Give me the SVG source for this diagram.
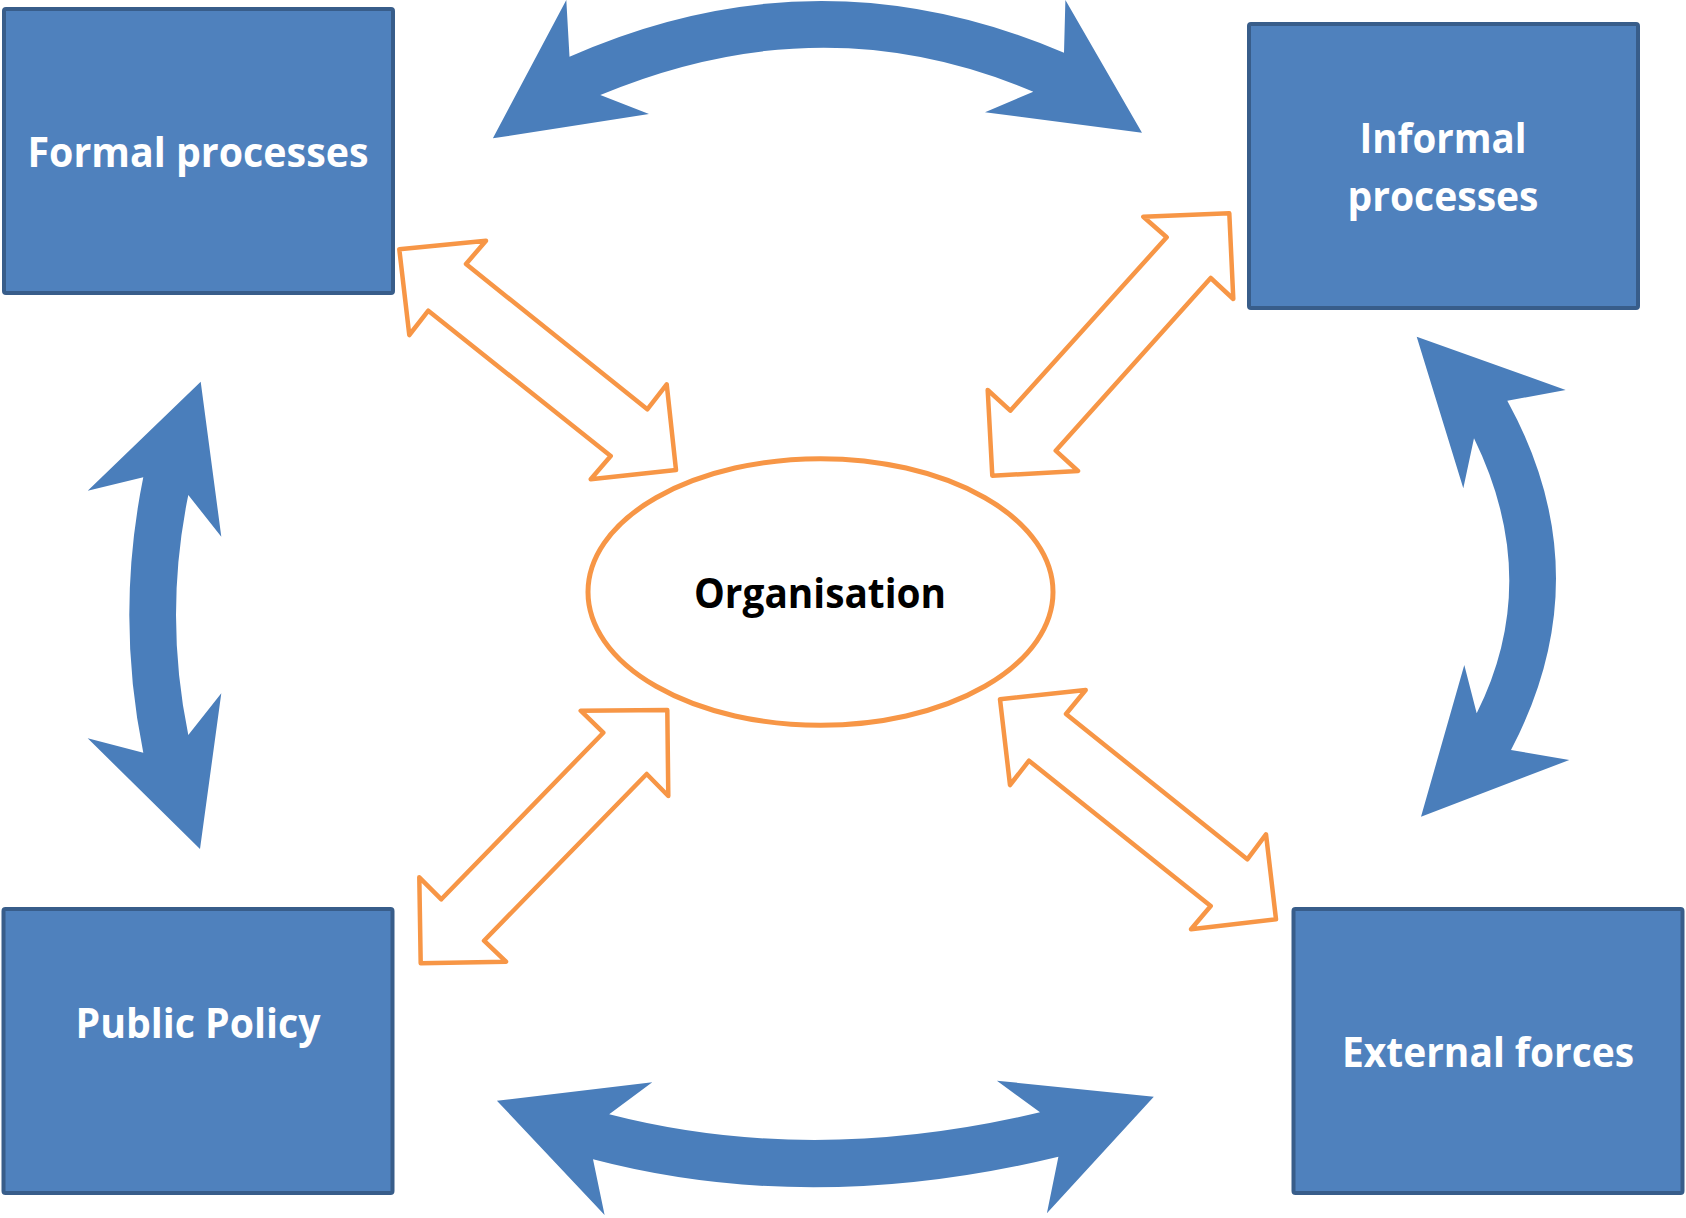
<svg xmlns="http://www.w3.org/2000/svg" width="1686" height="1218" viewBox="0 0 1686 1218">
<style>
.box{fill:#4F81BD;stroke:#385D8A;stroke-width:4}
.lbl{font-family:"Open Sans","Noto Sans","Liberation Sans",sans-serif;font-weight:bold;font-size:41px;fill:#FFFFFF;text-anchor:middle}
.org{fill:#000000}
.oarrow{fill:#FFFFFF;stroke:#F79646;stroke-width:4.5;stroke-linejoin:round}
.barrow{fill:#4A7EBB;stroke:none}
</style>
<rect width="1686" height="1218" fill="#FFFFFF"/>
<g id="connectors">
<path class="barrow" d="M 492.9 138.3 L 566.3 0 L 569.5 56.7 Q 817 -52.7 1064 52.7 L 1065.4 0 L 1142 132.7 L 985 112.3 L 1033.3 91.7 Q 823.2 2 600.3 95 L 649 114 Z"/>
<path class="barrow" d="M 496.9 1100.7 L 652.3 1082.3 L 609.2 1114.3 Q 812.2 1166.6 1040 1112.3 L 996.9 1080.7 L 1153.8 1096.7 L 1046.9 1213.3 L 1058.4 1156.7 Q 811.1 1216.6 593 1159.3 L 604.6 1215 Z"/>
<path class="barrow" d="M 200.7 381.7 L 221.3 536.7 L 188.3 495 Q 163.7 615 188.3 735 L 221.3 693.3 L 200 849 L 87.7 738.3 L 143.3 752.7 Q 115.3 615 143.3 477.3 L 87.7 490.7 Z"/>
<path class="barrow" d="M 1416.7 336.7 L 1565.7 390 L 1507.3 400.7 Q 1602.8 574.6 1511 750 L 1569.3 760 L 1421 816.7 L 1464.3 665 L 1476.7 713.3 Q 1543.2 580.2 1474 438.3 L 1463.3 488.3 Z"/>
<polygon class="oarrow" points="399.3,249.3 486,240.7 466,264 647.3,409.3 666.7,384.3 676,470 590.7,479.3 610.7,456 428.3,310.7 409.3,335"/>
<polygon class="oarrow" points="1229.3,213.3 1233.3,299 1210.7,278 1055.7,450.7 1078,471 992.3,475.7 987.7,390 1010.3,410.7 1166.7,237.3 1143.3,216.7"/>
<polygon class="oarrow" points="667.3,710 668.3,796 646.7,774 484,940.7 506,961.7 420.7,963.3 419.3,877.3 441.3,899.3 603.3,732.7 580.7,710.7"/>
<polygon class="oarrow" points="1000,699.3 1085.7,690 1066,714 1247.3,859.3 1266,834.3 1276,919.3 1191,929.3 1210.7,906 1029,760.7 1010,785"/>
</g>
<g id="formal">
<rect class="box" x="4" y="9" width="389" height="284" rx="2"/>
<text class="lbl" x="198" y="167" textLength="341" lengthAdjust="spacingAndGlyphs">Formal processes</text>
</g>
<g id="informal">
<rect class="box" x="1249" y="24" width="389" height="284" rx="2"/>
<text class="lbl" x="1443" y="153" textLength="167" lengthAdjust="spacingAndGlyphs">Informal</text>
<text class="lbl" x="1443" y="211" textLength="191" lengthAdjust="spacingAndGlyphs">processes</text>
</g>
<g id="public">
<rect class="box" x="3.5" y="909" width="389" height="284" rx="2"/>
<text class="lbl" x="198" y="1038" textLength="245" lengthAdjust="spacingAndGlyphs">Public Policy</text>
</g>
<g id="external">
<rect class="box" x="1293.5" y="909" width="389" height="284" rx="2"/>
<text class="lbl" x="1488" y="1067" textLength="292" lengthAdjust="spacingAndGlyphs">External forces</text>
</g>
<g id="organisation">
<ellipse cx="820.5" cy="592" rx="232.5" ry="133.3" fill="#FFFFFF" stroke="#F79646" stroke-width="5"/>
<text class="lbl org" x="820" y="608" textLength="252" lengthAdjust="spacingAndGlyphs">Organisation</text>
</g>
</svg>
